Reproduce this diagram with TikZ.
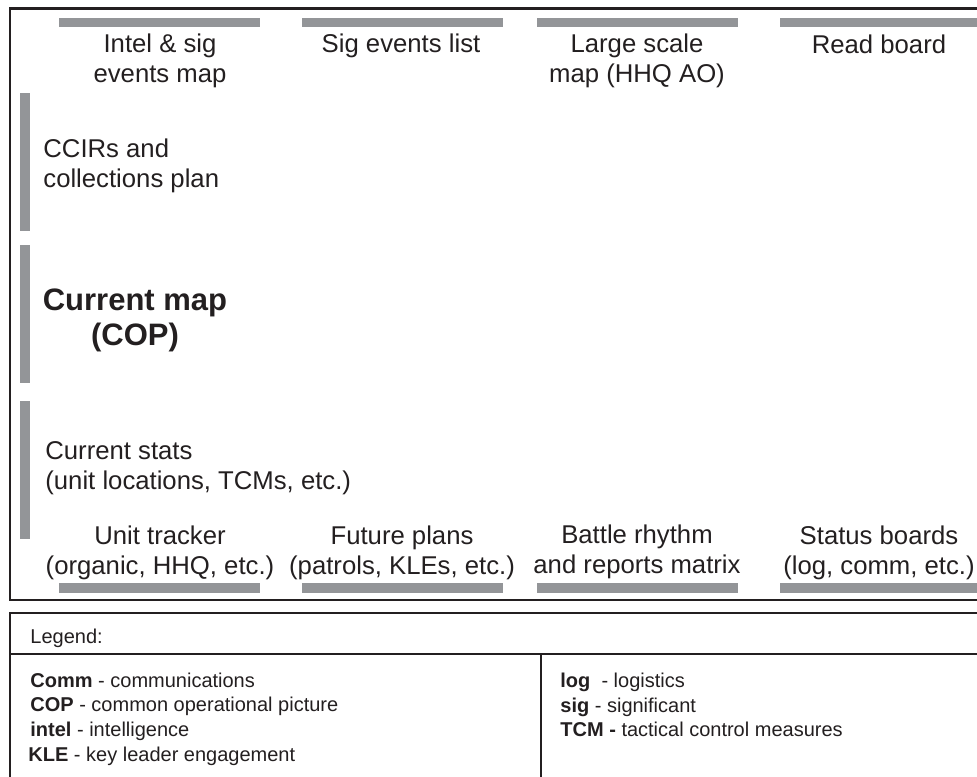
\documentclass[tikz,border=0pt]{standalone}
\usepackage{fontspec}
\setmainfont{Liberation Sans}

\definecolor{boardgray}{HTML}{939598}
\definecolor{ink}{HTML}{231F20}

\begin{document}
\begin{tikzpicture}[x=0.5pt, y=-0.5pt,
	board/.style={text=ink, inner sep=0pt, align=center, font=\fontsize{12.85}{15}\selectfont},
	sideboard/.style={board, align=left, anchor=west},
	legendtxt/.style={text=ink, inner sep=0pt, align=left, anchor=west, font=\fontsize{10}{12.35}\selectfont}]
	\clip (0,0) rectangle (977,776);
	% Wand (Rahmen)
	\draw[ink, line width=1.3pt] (10,8.5) rectangle (1000,600);
	% Tafeln oben / unten
	\foreach \x in {59,302,537,780} {
		\fill[boardgray] (\x,18) rectangle ++(201,9);
		\fill[boardgray] (\x,583) rectangle ++(201,10);
	}
	% Tafeln links
	\foreach \y in {93,245,401} {
		\fill[boardgray] (20,\y) rectangle ++(10,138);
	}
	\node[board] (intel) at (160,61) {Intel \& sig\\events map};
	\node[board] (sigev) at (401,46) {Sig events list};
	\node[board] (large) at (637,61) {Large scale\\map (HHQ AO)};
	\node[board] (read) at (879,44) {Read board};
	\node[sideboard] (ccir) at (43,166) {CCIRs and\\collections plan};
	\node[board, font=\bfseries\fontsize{15.5}{17.5}\selectfont] (curmap) at (135,320) {Current map\\(COP)};
	\node[sideboard] (stats) at (45,468) {Current stats\\(unit locations, TCMs, etc.)};
	\node[board] (unit) at (160,553) {Unit tracker\\(organic, HHQ, etc.)};
	\node[board] (future) at (402,553) {Future plans\\(patrols, KLEs, etc.)};
	\node[board] (battle) at (637,552) {Battle rhythm\\and reports matrix};
	\node[board] (status) at (879,553) {Status boards\\(log, comm, etc.)};
	% Legende
	\draw[ink, line width=1.2pt] (10,613) rectangle (1000,800);
	\draw[ink, line width=1pt] (10,654) -- (1000,654);
	\draw[ink, line width=1pt] (541,654) -- (541,800);
	\node[legendtxt, anchor=base west] (legtitle) at (30,643) {Legend:};
	\node[legendtxt] (legleft) at (30,719) {\textbf{Comm} - communications\\
		\textbf{COP} - common operational picture\\
		\textbf{intel} - intelligence\\
		\hspace*{-1pt}\textbf{KLE} - key leader engagement};
	\node[legendtxt] (legright) at (560,705) {\textbf{log}\ \ - logistics\\
		\textbf{sig} - significant\\
		\textbf{TCM -} tactical control measures};
\end{tikzpicture}
\end{document}
